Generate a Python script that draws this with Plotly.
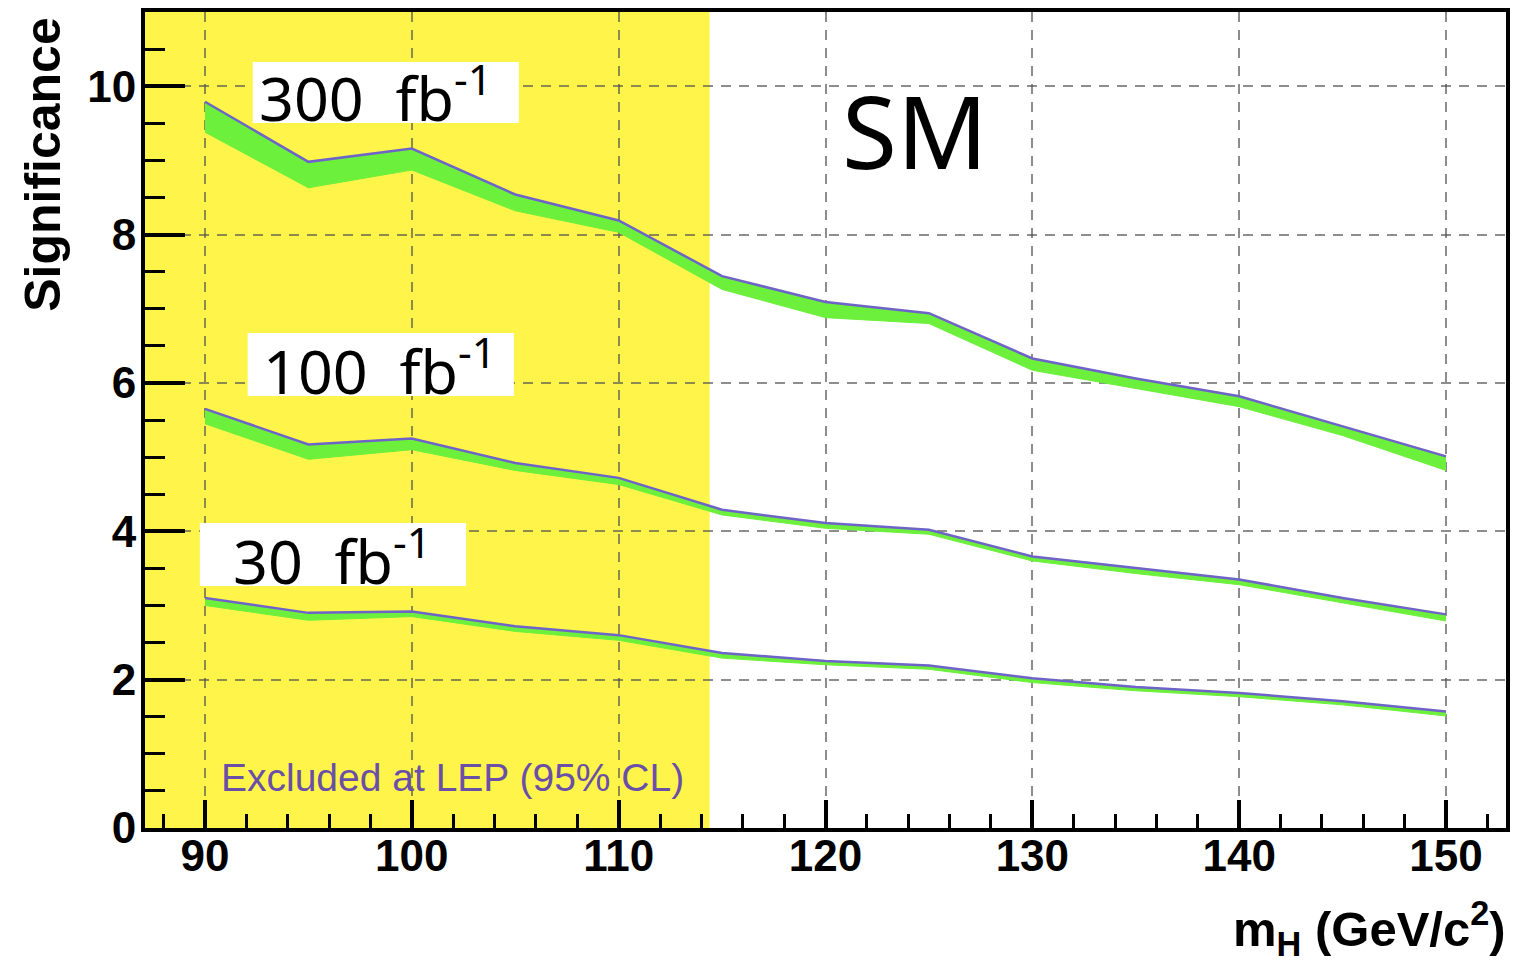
import plotly.graph_objects as go

# ---- data ----
mass = [90, 95, 100, 105, 110, 115, 120, 125, 130, 135, 140, 145, 150]

sig300_hi = [9.79, 8.98, 9.16, 8.54, 8.19, 7.44, 7.09, 6.94, 6.33, 6.06, 5.82, 5.41, 5.01]
sig300_lo = [9.38, 8.63, 8.87, 8.32, 8.03, 7.26, 6.88, 6.80, 6.17, 5.93, 5.68, 5.29, 4.82]
sig100_hi = [5.65, 5.17, 5.25, 4.92, 4.72, 4.29, 4.11, 4.02, 3.66, 3.50, 3.35, 3.10, 2.88]
sig100_lo = [5.45, 4.97, 5.10, 4.82, 4.63, 4.22, 4.04, 3.96, 3.60, 3.43, 3.28, 3.03, 2.79]
sig30_hi = [3.10, 2.90, 2.92, 2.72, 2.60, 2.36, 2.25, 2.19, 2.02, 1.90, 1.82, 1.71, 1.57]
sig30_lo = [3.00, 2.80, 2.85, 2.65, 2.53, 2.29, 2.20, 2.14, 1.96, 1.85, 1.77, 1.66, 1.51]

lep_limit = 114.4
x_range = [87.1, 152.9]
y_range = [0, 11]
x_ticks = [90, 100, 110, 120, 130, 140, 150]
y_ticks = [0, 2, 4, 6, 8, 10]

lumi_labels = ["300\u00a0\u00a0fb<sup>-1</sup>", "100\u00a0\u00a0fb<sup>-1</sup>", "30\u00a0\u00a0fb<sup>-1</sup>"]

# ---- styles ----
GREEN = "#6cf03c"
BLUE = "#6e64c8"
YELLOW = "#fff54a"

fig = go.Figure()

bands = [(sig300_lo, sig300_hi), (sig100_lo, sig100_hi), (sig30_lo, sig30_hi)]
for lo, hi in bands:
    fig.add_trace(go.Scatter(x=mass, y=lo, mode="lines",
                             line=dict(color=GREEN, width=1),
                             showlegend=False, hoverinfo="skip"))
    fig.add_trace(go.Scatter(x=mass, y=hi, mode="lines", fill="tonexty",
                             fillcolor=GREEN,
                             line=dict(color=BLUE, width=2.5),
                             showlegend=False))

# LEP excluded region
fig.add_shape(type="rect", xref="x", yref="paper",
              x0=x_range[0], x1=lep_limit, y0=0, y1=1,
              fillcolor=YELLOW, line=dict(width=0), layer="below")

axis_font = dict(family="Liberation Sans, Arial", size=44, color="black", weight="bold")
grid_col = "rgba(80,80,80,0.65)"

fig.update_xaxes(range=x_range, tickvals=x_ticks, ticktext=[str(v) for v in x_ticks],
                 ticks="inside", ticklen=28, tickwidth=4, tickcolor="black",
                 minor=dict(dtick=2, tick0=88, ticks="inside", ticklen=14,
                            tickwidth=3, tickcolor="black", showgrid=False),
                 showline=True, linewidth=4, linecolor="black", mirror=True,
                 showgrid=True, gridcolor=grid_col, gridwidth=2,
                 griddash="10px,8px", zeroline=False,
                 ticklabelstandoff=-14,
                 tickfont=axis_font)
fig.update_yaxes(range=y_range, tickvals=y_ticks, ticktext=[str(v) for v in y_ticks],
                 ticks="inside", ticklen=40, tickwidth=4, tickcolor="black",
                 minor=dict(dtick=0.5, tick0=0, ticks="inside", ticklen=20,
                            tickwidth=3, tickcolor="black", showgrid=False),
                 showline=True, linewidth=4, linecolor="black", mirror=True,
                 showgrid=True, gridcolor=grid_col, gridwidth=2,
                 griddash="10px,8px", zeroline=False,
                 ticklabelstandoff=-4,
                 tickfont=axis_font)

W, H = 1518, 963
L, R, T, B = 145, 8, 12, 135
pw, ph = W - L - R, H - T - B


def px(xp):
    return (xp - L) / pw


def py(yp):
    return (H - B - yp) / ph


# white label boxes (pixel extents from the reference) and their texts
boxes = [
    (253, 520, 62, 123, 257),
    (248, 515, 333, 396, 261),
    (200, 467, 523, 586, 231),
]
label_font = dict(family="Noto Sans", size=61, color="black")
for (x0, x1, y0, y1, tx), text in zip(boxes, lumi_labels):
    fig.add_shape(type="rect", xref="paper", yref="paper",
                  x0=px(x0), x1=px(x1), y0=py(y1), y1=py(y0),
                  fillcolor="white", line=dict(width=0), layer="above")
    fig.add_annotation(text=text, xref="paper", yref="paper", x=px(tx), y=py((y0 + y1) / 2 + 2),
                       xanchor="left", yanchor="middle", showarrow=False,
                       font=label_font)

fig.add_annotation(text="SM", xref="paper", yref="paper", x=px(917), y=py(130),
                   xanchor="center", yanchor="middle", showarrow=False,
                   font=dict(family="Noto Sans", size=100, color="black"))

fig.add_annotation(text="Excluded at LEP (95% CL)", xref="paper", yref="paper",
                   x=px(453), y=py(777), xanchor="center", yanchor="middle",
                   showarrow=False,
                   font=dict(family="Liberation Sans, Arial", size=39, color="#6a4fa8"))

fig.add_annotation(text="<b>Significance</b>", xref="paper", yref="paper",
                   x=px(42), y=py(15), xanchor="center", yanchor="top",
                   textangle=-90, showarrow=False,
                   font=dict(family="Liberation Sans, Arial", size=50, color="black"))

fig.add_annotation(text="<b>m<sub>H</sub> (GeV/c<sup>2</sup>)</b>", xref="paper", yref="paper",
                   x=px(1512), y=py(928), xanchor="right", yanchor="middle",
                   showarrow=False,
                   font=dict(family="Liberation Sans, Arial", size=49, color="black"))

fig.update_layout(width=W, height=H, margin=dict(l=L, r=R, t=T, b=B),
                  paper_bgcolor="white", plot_bgcolor="white", showlegend=False)

fig.write_html("out.html",
               config={"displayModeBar": False},
               post_script="document.body.style.margin='0';document.body.style.padding='0';"
                           "document.body.style.overflow='hidden';")
